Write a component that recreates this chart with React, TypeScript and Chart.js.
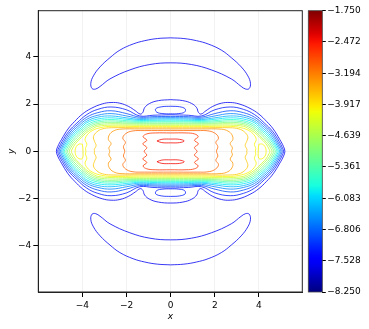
import React, { useEffect, useRef } from 'react';
import { Chart, registerables } from 'chart.js';
Chart.register(...registerables);

// ---- data ----
const CB_MIN = -8.25;
const CB_MAX = -1.75;
const CB_TICKS = [-8.25, -7.528, -6.806, -6.083, -5.361, -4.639, -3.917, -3.194, -2.472, -1.75];
const X_TICKS = [-4, -2, 0, 2, 4];
const Y_TICKS = [-4, -2, 0, 2, 4];
const LEVELS = [-7.6, -7.275, -6.95, -6.625, -6.3, -5.975, -5.65, -5.325, -5.0, -4.675, -4.35, -4.025, -3.7, -3.375, -3.05, -2.725, -2.4];

// band contours, one quadrant each (from (0, top) to (tip, 0)), mirrored into both axes
const EDGE_0 = [[0,2.19],[0.55,2.15],[0.95,2.03],[1.18,1.85],[1.26,1.65],[1.38,1.58],[1.6,1.72],[1.9,1.9],[2.3,2.04],[2.7,2.07],[3.1,2.01],[3.6,1.82],[4.0,1.58],[4.35,1.27],[4.65,0.95],[4.95,0.5],[5.12,0.2],[5.18,0]];
const EDGE_1 = [[0,1.55],[0.8,1.53],[1.4,1.5],[2.0,1.76],[2.7,1.88],[3.3,1.78],[3.8,1.56],[4.25,1.2],[4.62,0.85],[4.92,0.42],[5.07,0.15],[5.12,0]];
const EDGE_2 = [[0,1.48],[0.8,1.47],[1.4,1.45],[2.0,1.6],[2.7,1.72],[3.3,1.64],[3.8,1.45],[4.2,1.15],[4.56,0.82],[4.86,0.4],[5.01,0.14],[5.06,0]];
const EDGE_3 = [[0,1.43],[0.8,1.42],[1.4,1.4],[2.0,1.5],[2.7,1.6],[3.3,1.53],[3.8,1.36],[4.15,1.1],[4.5,0.79],[4.8,0.39],[4.95,0.13],[5.0,0]];
const EDGE_4 = [[0,1.38],[0.8,1.37],[1.4,1.35],[2.0,1.42],[2.7,1.5],[3.3,1.45],[3.8,1.28],[4.1,1.05],[4.44,0.76],[4.74,0.38],[4.89,0.13],[4.94,0]];
const EDGE_5 = [[0,1.33],[0.8,1.32],[1.4,1.31],[2.0,1.36],[2.7,1.42],[3.3,1.37],[3.8,1.21],[4.05,1.0],[4.38,0.73],[4.68,0.37],[4.83,0.12],[4.88,0]];
const EDGE_6 = [[0,1.28],[0.8,1.28],[1.4,1.27],[2.0,1.3],[2.7,1.35],[3.3,1.3],[3.75,1.15],[4.0,0.96],[4.32,0.7],[4.62,0.36],[4.77,0.12],[4.82,0]];
const EDGE_7 = [[0,1.24],[0.8,1.24],[1.4,1.23],[2.0,1.25],[2.7,1.29],[3.3,1.24],[3.7,1.1],[3.95,0.92],[4.25,0.67],[4.55,0.35],[4.7,0.12],[4.75,0]];
const EDGE_8 = [[0,1.19],[0.8,1.19],[1.4,1.19],[2.0,1.2],[2.7,1.23],[3.3,1.18],[3.65,1.05],[3.9,0.88],[4.18,0.64],[4.48,0.34],[4.63,0.11],[4.68,0]];
const EDGE_9 = [[0,1.15],[0.8,1.15],[1.4,1.15],[2.0,1.16],[2.7,1.17],[3.3,1.12],[3.6,1.0],[3.85,0.84],[4.1,0.61],[4.4,0.33],[4.55,0.11],[4.6,0]];
const EDGE_10 = [[0,1.1],[0.8,1.1],[1.4,1.1],[2.0,1.11],[2.7,1.11],[3.3,1.06],[3.55,0.95],[3.8,0.8],[4.05,0.58],[4.32,0.32],[4.46,0.1],[4.5,0]];
const INNER_11 = [[0,1.05],[1.4,1.05],[2.7,1.06],[3.2,1.0],[3.55,0.88],[3.78,0.7],[3.88,0.5],[3.8,0.3],[3.86,0.12],[3.84,0]];
const INNER_12 = [[0,1.0],[1.4,1.0],[2.7,1.0],[3.1,0.95],[3.35,0.82],[3.5,0.62],[3.45,0.42],[3.38,0.25],[3.46,0.08],[3.45,0]];
const INNER_13 = [[0,0.95],[1.4,0.95],[2.3,0.94],[2.6,0.86],[2.78,0.7],[2.82,0.5],[2.7,0.33],[2.8,0.15],[2.76,0]];
const INNER_14 = [[0,0.88],[1.2,0.88],[1.75,0.86],[2.05,0.74],[2.17,0.56],[2.05,0.38],[2.14,0.2],[2.08,0]];
const INNER_15 = [[0,0.78],[0.7,0.78],[1.08,0.74],[1.25,0.62],[1.08,0.47],[1.26,0.32],[1.08,0.16],[1.2,0]];

// separate closed loops (upper / right instances; mirrored copies are added below)
const BLOB_IN = [[0,1.91],[0.4,1.89],[0.66,1.8],[0.63,1.66],[0.35,1.6],[0,1.59],[-0.35,1.6],[-0.63,1.66],[-0.68,1.8],[-0.4,1.89],[0,1.91]];
const D_LOOP = [[4.0,0.3],[4.15,0.31],[4.28,0.2],[4.33,0],[4.28,-0.2],[4.15,-0.31],[4.0,-0.3],[3.97,0],[4.0,0.3]];
const RIDGE = [[-0.62,0.44],[-0.4,0.51],[0,0.52],[0.4,0.51],[0.62,0.44],[0.4,0.37],[0,0.36],[-0.4,0.37],[-0.62,0.44]];
const CRESCENT_HALF = [[0,4.81],[0.6,4.78],[1.17,4.69],[1.7,4.55],[2.3,4.29],[2.75,3.97],[3.2,3.58],[3.5,3.2],[3.62,2.88],[3.56,2.66],[3.4,2.64],[3.2,2.75],[2.75,3.07],[1.85,3.45],[0.94,3.68],[0,3.75]];

// ---- helpers ----
type P = { x: number; y: number };
function quadLoop(q: number[][]): P[] {
  const pts: P[] = [];
  q.forEach(([x, y]) => pts.push({ x, y }));
  for (let i = q.length - 2; i >= 0; i--) pts.push({ x: q[i][0], y: -q[i][1] });
  for (let i = 1; i < q.length; i++) pts.push({ x: -q[i][0], y: -q[i][1] });
  for (let i = q.length - 2; i >= 0; i--) pts.push({ x: -q[i][0], y: q[i][1] });
  return pts;
}
const toPts = (a: number[][], sx = 1, sy = 1): P[] => a.map(([x, y]) => ({ x: x * sx, y: y * sy }));
function halfLoop(h: number[][]): number[][] {
  const back = h.slice(0, -1).reverse().map(([x, y]) => [-x, y]);
  return [...h, ...back];
}

const JET: Record<string, number[][]> = {
  r: [[0, 0], [0.35, 0], [0.66, 1], [0.89, 1], [1, 0.5]],
  g: [[0, 0], [0.125, 0], [0.375, 1], [0.64, 1], [0.91, 0], [1, 0]],
  b: [[0, 0.5], [0.11, 1], [0.34, 1], [0.65, 0], [1, 0]],
};
function segv(s: number[][], t: number) {
  for (let i = 1; i < s.length; i++) {
    if (t <= s[i][0]) {
      const [t0, v0] = s[i - 1];
      const [t1, v1] = s[i];
      return v0 + ((v1 - v0) * (t - t0)) / (t1 - t0);
    }
  }
  return s[s.length - 1][1];
}
function jetRGB(t: number) {
  t = Math.max(0, Math.min(1, t));
  return [Math.round(255 * segv(JET.r, t)), Math.round(255 * segv(JET.g, t)), Math.round(255 * segv(JET.b, t))];
}
const jetT = (t: number) => `rgb(${jetRGB(t).join(',')})`;
const jetLine = (v: number) => `rgba(${jetRGB((v - CB_MIN) / (CB_MAX - CB_MIN)).join(',')},0.78)`;

const minus = (s: string) => s.replace('-', '\u2212');

const CONTOURS: { level: number; pts: P[] }[] = [
  { level: LEVELS[0], pts: quadLoop(EDGE_0) },
  { level: LEVELS[1], pts: quadLoop(EDGE_1) },
  { level: LEVELS[2], pts: quadLoop(EDGE_2) },
  { level: LEVELS[3], pts: quadLoop(EDGE_3) },
  { level: LEVELS[4], pts: quadLoop(EDGE_4) },
  { level: LEVELS[5], pts: quadLoop(EDGE_5) },
  { level: LEVELS[6], pts: quadLoop(EDGE_6) },
  { level: LEVELS[7], pts: quadLoop(EDGE_7) },
  { level: LEVELS[8], pts: quadLoop(EDGE_8) },
  { level: LEVELS[9], pts: quadLoop(EDGE_9) },
  { level: LEVELS[10], pts: quadLoop(EDGE_10) },
  { level: LEVELS[11], pts: quadLoop(INNER_11) },
  { level: LEVELS[12], pts: quadLoop(INNER_12) },
  { level: LEVELS[13], pts: quadLoop(INNER_13) },
  { level: LEVELS[14], pts: quadLoop(INNER_14) },
  { level: LEVELS[15], pts: quadLoop(INNER_15) },
  { level: LEVELS[1], pts: toPts(BLOB_IN) },
  { level: LEVELS[1], pts: toPts(BLOB_IN, 1, -1) },
  { level: LEVELS[11], pts: toPts(D_LOOP) },
  { level: LEVELS[11], pts: toPts(D_LOOP, -1, 1) },
  { level: LEVELS[16], pts: toPts(RIDGE) },
  { level: LEVELS[16], pts: toPts(RIDGE, 1, -1) },
  { level: LEVELS[0], pts: toPts(halfLoop(CRESCENT_HALF)) },
  { level: LEVELS[0], pts: toPts(halfLoop(CRESCENT_HALF), 1, -1) },
];

const FONT = { family: "'DejaVu Sans', sans-serif", size: 9 };
const TFONT = { family: "'DejaVu Sans', sans-serif", size: 9, style: 'italic' as const };

const framePlugin = {
  id: 'frameAndBar',
  afterDraw(chart: any) {
    const { ctx, chartArea: a, scales } = chart;
    const cb = scales.cb;
    const top = cb.getPixelForValue(CB_MAX);
    const bot = cb.getPixelForValue(CB_MIN);
    const x1 = cb.left;
    const x0 = x1 - 14;
    ctx.save();
    const g = ctx.createLinearGradient(0, bot, 0, top);
    for (let i = 0; i <= 50; i++) g.addColorStop(i / 50, jetT(i / 50));
    ctx.fillStyle = g;
    ctx.fillRect(x0, top, x1 - x0, bot - top);
    ctx.strokeStyle = '#444';
    ctx.lineWidth = 0.8;
    ctx.strokeRect(x0, top, x1 - x0, bot - top);
    ctx.strokeStyle = '#222';
    ctx.lineWidth = 1;
    ctx.strokeRect(a.left, a.top, a.right - a.left, a.bottom - a.top);
    ctx.restore();
  },
};

export default function App() {
  const ref = useRef<HTMLCanvasElement>(null);
  useEffect(() => {
    const chart = new Chart(ref.current!, {
      type: 'scatter',
      data: {
        datasets: CONTOURS.map((c) => ({
          data: c.pts,
          borderColor: jetLine(c.level),
          backgroundColor: jetLine(c.level),
          borderWidth: 1,
          showLine: true,
          pointRadius: 0,
          pointHoverRadius: 0,
          tension: 0.4,
          fill: false,
        })),
      },
      options: {
        animation: false,
        responsive: false,
        devicePixelRatio: 1,
        events: [],
        layout: { padding: { left: 0, top: 10.7, right: 0, bottom: 0 } },
        plugins: { legend: { display: false }, tooltip: { enabled: false } },
        scales: {
          x: {
            type: 'linear',
            position: 'bottom',
            min: -6.0,
            max: 5.97,
            afterBuildTicks: (s: any) => { s.ticks = X_TICKS.map((v) => ({ value: v })); },
            afterFit: (s: any) => { s.height = 37; s.paddingLeft = 0; s.paddingRight = 0; },
            ticks: { callback: (v: any) => minus(String(v)), font: FONT, color: '#000', padding: 3, maxRotation: 0, autoSkip: false },
            grid: { color: 'rgba(0,0,0,0.05)', tickColor: '#000', tickLength: 5, lineWidth: 1 },
            border: { display: true, color: '#222', width: 1 },
            title: { display: true, text: 'x', font: TFONT, color: '#000', padding: { top: 0, bottom: 7 } },
          },
          y: {
            type: 'linear',
            position: 'left',
            min: -5.96,
            max: 5.96,
            afterBuildTicks: (s: any) => { s.ticks = Y_TICKS.map((v) => ({ value: v })); },
            afterFit: (s: any) => { s.width = 38.3; s.paddingTop = 0; s.paddingBottom = 0; },
            ticks: { callback: (v: any) => minus(String(v)), font: FONT, color: '#000', padding: 2, autoSkip: false },
            grid: { color: 'rgba(0,0,0,0.05)', tickColor: '#000', tickLength: 5, lineWidth: 1 },
            border: { display: true, color: '#222', width: 1 },
            title: { display: true, text: 'y', font: TFONT, color: '#000', padding: { top: 6, bottom: 0 } },
          },
          gap: {
            type: 'linear',
            position: 'right',
            weight: 0,
            min: 0,
            max: 1,
            display: true,
            ticks: { display: false },
            grid: { display: false },
            border: { display: false },
            afterFit: (s: any) => { s.width = 20; s.paddingTop = 0; s.paddingBottom = 0; },
          },
          cb: {
            type: 'linear',
            position: 'right',
            weight: 1,
            min: CB_MIN,
            max: CB_MAX,
            afterBuildTicks: (s: any) => { s.ticks = CB_TICKS.map((v) => ({ value: v })); },
            afterFit: (s: any) => { s.width = 46.7; s.paddingTop = 0; s.paddingBottom = 0; },
            ticks: { callback: (v: any) => minus(Number(v).toFixed(3)), font: FONT, color: '#000', padding: 1.5, autoSkip: false },
            grid: { drawOnChartArea: false, tickColor: '#000', tickLength: 3.5 },
            border: { display: false },
          },
        } as any,
      },
      plugins: [framePlugin],
    } as any);
    return () => chart.destroy();
  }, []);
  return (
    <div style={{ position: 'absolute', left: 0, top: 0, width: 369, height: 329, background: '#fff' }}>
      <canvas ref={ref} width={369} height={329} style={{ width: 369, height: 329, display: 'block' }} />
    </div>
  );
}
